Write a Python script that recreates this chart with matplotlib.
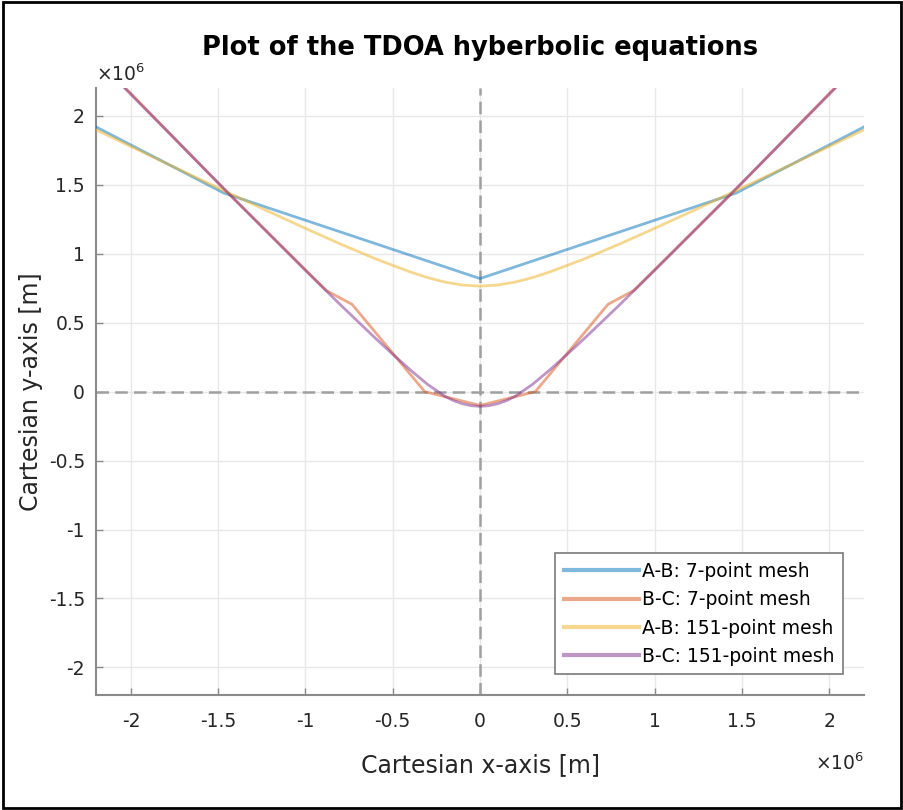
import matplotlib
matplotlib.use("Agg")
import matplotlib.pyplot as plt
from matplotlib.ticker import FuncFormatter, MultipleLocator
from matplotlib.patches import Rectangle

# values in units of 1e6 m
SCALE = 1e6

# A-B, 7-point mesh (coarse contour)
ab7_x = [-2.2, -1.467, -0.733, 0.0, 0.733, 1.467, 2.2]
ab7_y = [1.92, 1.44, 1.13, 0.82, 1.13, 1.44, 1.92]

# B-C, 7-point mesh (coarse contour)
bc7_x = [-2.03, -1.467, -0.88, -0.733, -0.317, 0.0, 0.317, 0.733, 0.88, 1.467, 2.03]
bc7_y = [2.2, 1.47, 0.733, 0.633, 0.0, -0.10, 0.0, 0.633, 0.733, 1.47, 2.2]

# A-B, 151-point mesh
ab151_x = [-2.2, -2.0, -1.8, -1.6, -1.4, -1.2, -1.0, -0.8, -0.6, -0.4, -0.3, -0.2, -0.1, 0.0,
           0.1, 0.2, 0.3, 0.4, 0.6, 0.8, 1.0, 1.2, 1.4, 1.6, 1.8, 2.0, 2.2]
ab151_y = [1.899, 1.778, 1.657, 1.537, 1.418, 1.300, 1.184, 1.071, 0.964, 0.868, 0.827, 0.794, 0.773, 0.765,
           0.773, 0.794, 0.827, 0.868, 0.964, 1.071, 1.184, 1.300, 1.418, 1.537, 1.657, 1.778, 1.899]

# B-C, 151-point mesh
bc151_x = [-2.05, -1.8, -1.6, -1.4, -1.2, -1.0, -0.8, -0.6, -0.5, -0.4, -0.3, -0.2, -0.15, -0.1, -0.05, 0.0,
           0.05, 0.1, 0.15, 0.2, 0.3, 0.4, 0.5, 0.6, 0.8, 1.0, 1.2, 1.4, 1.6, 1.8, 2.05]
bc151_y = [2.22, 1.899, 1.642, 1.386, 1.132, 0.879, 0.630, 0.388, 0.271, 0.158, 0.052, -0.035, -0.066, -0.088, -0.102, -0.107,
           -0.102, -0.088, -0.066, -0.035, 0.052, 0.158, 0.271, 0.388, 0.630, 0.879, 1.132, 1.386, 1.642, 1.899, 2.22]

labels = ["A-B: 7-point mesh", "B-C: 7-point mesh", "A-B: 151-point mesh", "B-C: 151-point mesh"]
colors = ["#0072BD", "#D95319", "#EDB120", "#7E2F8E"]

plt.rcParams["axes.unicode_minus"] = False
plt.rcParams["font.family"] = "DejaVu Sans"

fig = plt.figure(figsize=(9.04, 8.10), dpi=100)
ax = fig.add_axes([0.1062, 0.142, 0.8496, 0.749])

# dashed axes through the origin
ax.axvline(0, color="#a0a0a0", lw=1.8, ls=(0, (5, 2.5)), zorder=1.5)
ax.axhline(0, color="#a0a0a0", lw=1.8, ls=(0, (5, 2.5)), zorder=1.5)

series = [(ab7_x, ab7_y), (bc7_x, bc7_y), (ab151_x, ab151_y), (bc151_x, bc151_y)]
for (xs, ys), lab, c in zip(series, labels, colors):
    ax.plot([v * SCALE for v in xs], [v * SCALE for v in ys], color=c, lw=2, alpha=0.5,
            label=lab, zorder=3)

ax.set_xlim(-2.2 * SCALE, 2.2 * SCALE)
ax.set_ylim(-2.2 * SCALE, 2.2 * SCALE)
ax.xaxis.set_major_locator(MultipleLocator(0.5 * SCALE))
ax.yaxis.set_major_locator(MultipleLocator(0.5 * SCALE))
fmt = FuncFormatter(lambda v, p: "%g" % round(v / SCALE, 3))
ax.xaxis.set_major_formatter(fmt)
ax.yaxis.set_major_formatter(fmt)

ax.grid(True, color="#e8e8e8", lw=1)
ax.set_axisbelow(True)
for s in ["top", "right"]:
    ax.spines[s].set_visible(False)
for s in ["left", "bottom"]:
    ax.spines[s].set_color("#8a8a8a")
    ax.spines[s].set_linewidth(1.5)
ax.tick_params(direction="in", length=5, width=1, color="#8a8a8a",
               labelsize=13.5, labelcolor="#262626")
ax.tick_params(axis="x", pad=12)
ax.tick_params(axis="y", pad=8)

ax.set_title("Plot of the TDOA hyberbolic equations", fontsize=18.5, fontweight="bold", pad=24)
ax.set_xlabel("Cartesian x-axis [m]", fontsize=17, color="#262626", labelpad=16)
ax.set_ylabel("Cartesian y-axis [m]", fontsize=17, color="#262626", labelpad=4)

# MATLAB-style exponent markers
ax.text(0.0, 1.005, r"$\times10^{6}$", transform=ax.transAxes, fontsize=13.5,
        color="#262626", ha="left", va="bottom")
ax.text(1.0, -0.095, r"$\times10^{6}$", transform=ax.transAxes, fontsize=13.5,
        color="#262626", ha="right", va="top")

leg = ax.legend(loc="lower right", fontsize=13.5, handlelength=4, handletextpad=0.2,
                labelspacing=0.5, borderpad=0.45, borderaxespad=1.1, fancybox=False,
                framealpha=1, edgecolor="#7a7a7a")
leg.get_frame().set_linewidth(1.2)
for line in leg.get_lines():
    line.set_linewidth(3)

# black frame around the whole picture
fig.patches.append(Rectangle((0.003, 0.003), 0.994, 0.994, transform=fig.transFigure,
                             fill=False, edgecolor="black", lw=2))

fig.savefig("out.png", dpi=100)
